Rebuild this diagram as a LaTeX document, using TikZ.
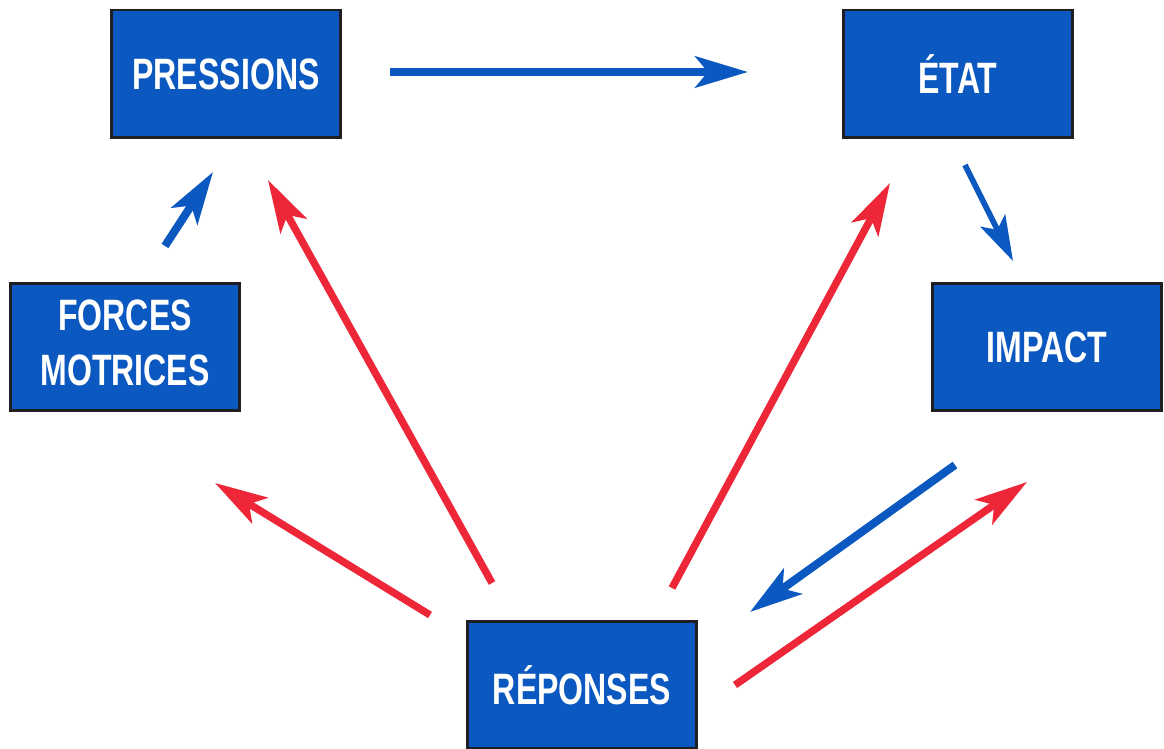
\documentclass[tikz,border=0pt]{standalone}
\usepackage{fontspec}
\newfontfamily\boxfont{Liberation Sans}[FakeStretch=0.73]
\usepackage{tikz}
\usetikzlibrary{arrows.meta}
\definecolor{dpsirblue}{RGB}{10,88,192}
\definecolor{dpsirred}{RGB}{237,38,56}
\definecolor{dpsirline}{RGB}{30,30,35}
\tikzset{
  box/.style={draw=dpsirline, line width=1.7pt, fill=dpsirblue, text=white,
    minimum width=4.6cm, minimum height=2.56cm, inner sep=0pt, align=center,
    font=\boxfont\bfseries\fontsize{25}{31}\selectfont},
  bluearrow/.style={draw=dpsirblue, line width=4.6pt,
    -{Stealth[length=1.05cm, width=0.62cm, inset=0.25cm]}},
  redarrow/.style={draw=dpsirred, line width=4.2pt,
    -{Stealth[length=1.05cm, width=0.6cm, inset=0.25cm]}},
}

\begin{document}
\begin{tikzpicture}[x=0.02cm, y=-0.02cm]
          \useasboundingbox (0, 0) rectangle (1164, 749);
          % boxes
          \node[box] (pressions) at (226, 74) {PRESSIONS};
          \node[box] (etat) at (958, 74) {ÉTAT};
          \node[box] (forces) at (125, 347) {FORCES\\MOTRICES\vphantom{p}};
          \node[box] (impact) at (1047, 347) {IMPACT};
          \node[box] (reponses) at (582, 685) {RÉPONSES};
          % arrow ends
          \coordinate (pe1) at (390, 72);   \coordinate (pe2) at (748, 72);
          \coordinate (fp1) at (165, 246);  \coordinate (fp2) at (213, 172);
          \coordinate (ei1) at (965, 165);  \coordinate (ei2) at (1013, 261);
          \coordinate (ir1) at (955, 465);  \coordinate (ir2) at (750, 612);
          \coordinate (ri1) at (735, 685);  \coordinate (ri2) at (1027, 482);
          \coordinate (re1) at (672, 588);  \coordinate (re2) at (890, 183);
          \coordinate (rp1) at (492, 583);  \coordinate (rp2) at (268, 180);
          \coordinate (rf1) at (430, 615);  \coordinate (rf2) at (215, 483);
          % blue arrows
          \draw[bluearrow, line width=5pt] (pe1) -- (pe2);
          \draw[bluearrow] (fp1) -- (fp2);
          \draw[bluearrow, line width=3.2pt, -{Stealth[length=0.9cm, width=0.55cm, inset=0.2cm]}] (ei1) -- (ei2);
          \draw[bluearrow] (ir1) -- (ir2);
          % red arrows
          \draw[redarrow] (ri1) -- (ri2);
          \draw[redarrow] (re1) -- (re2);
          \draw[redarrow] (rp1) -- (rp2);
          \draw[redarrow] (rf1) -- (rf2);
        \end{tikzpicture}
\end{document}
